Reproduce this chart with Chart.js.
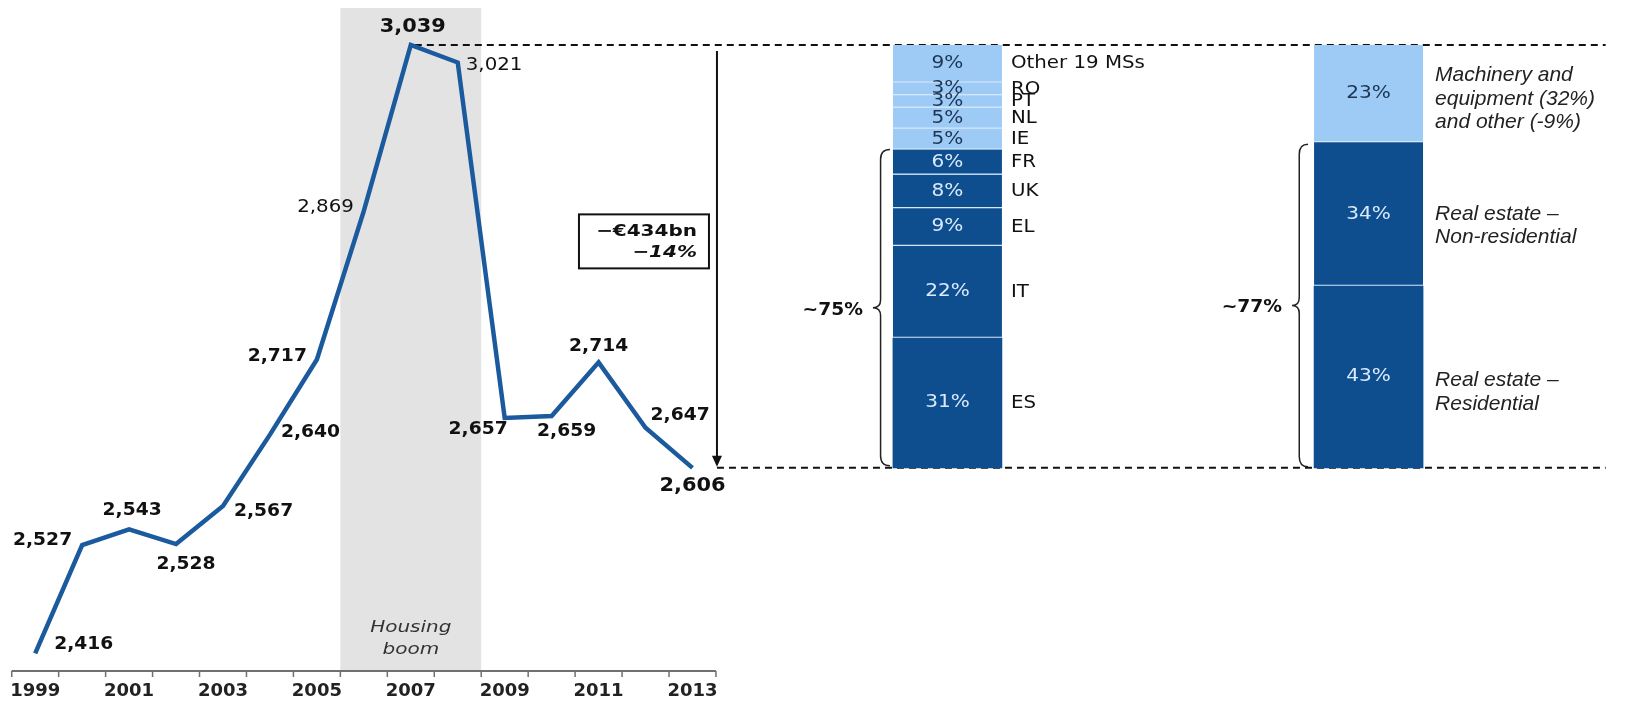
<!DOCTYPE html>
<html>
<head>
<meta charset="utf-8">
<script src="https://cdn.jsdelivr.net/npm/chart.js@4/dist/chart.umd.min.js"></script>
<style>
  html, body { margin: 0; padding: 0; background: #fff; }
</style>
</head>
<body>
<canvas id="chart" width="1627" height="704"></canvas>
<script>
// Investment, EUR bn
const years = [1999, 2000, 2001, 2002, 2003, 2004, 2005, 2006, 2007, 2008, 2009, 2010, 2011, 2012, 2013];
const investment = [2416, 2527, 2543, 2528, 2567, 2640, 2717, 2869, 3039, 3021, 2657, 2659, 2714, 2647, 2606];
const tickYears = [1999, 2001, 2003, 2005, 2007, 2009, 2011, 2013];
const boomYears = [2006, 2008];

// share of the drop by member state (bottom to top)
const countryNames = ["ES", "IT", "EL", "UK", "FR", "IE", "NL", "PT", "RO", "Other 19 MSs"];
const countryShares = [31, 22, 9, 8, 6, 5, 5, 3, 3, 9];
const countryCore = 5;

// share of the drop by sector (bottom to top)
const sectorNames = [["Real estate –", "Residential"], ["Real estate –", "Non-residential"], ["Machinery and", "equipment (32%)", "and other (-9%)"]];
const sectorShares = [43, 34, 23];
const sectorCore = 2;

const dropText = ["−€434bn", "−14%"];
const braceText = ["~75%", "~77%"];

// layout / style (not data)
const DARK = "#0f4e8e", LIGHT = "#9dcbf6", LINE = "#1b5b9d";
const BAR1_X = 2018.43, BAR2_X = 2027.4, DASH_END = 2032.45, BAR_W = 109;
const labelPos = [
  [19, -9, "left"], [-10, -4, "right"], [3, -19, "center"], [10, 21, "center"], [11, 6, "left"],
  [11, -2, "left"], [-10, -3, "right"], [-10, -4, "right"], [2, -18, "center"], [8, 3, "left"],
  [3, 12, "right"], [15, 15, "center"], [0, -16, "center"], [5, -12, "left"], [0, 18, "center"]
];
const sectorDy = [15, 11.5, 5.5];

const peak = Math.max(...investment);
const last = investment[investment.length - 1];

function ranges(shares) {
  const tot = shares.reduce((a, b) => a + b, 0);
  let lo = last;
  return shares.map(s => {
    const hi = lo + s / tot * (peak - last);
    const r = [lo, hi];
    lo = hi;
    return r;
  });
}

function segDatasets(names, shares, xPos, core) {
  return ranges(shares).map((r, i) => ({
    type: "bar",
    label: names[i].toString(),
    data: [{ x: xPos, y: r }],
    backgroundColor: i < core ? DARK : LIGHT,
    borderColor: "#d3e7fb",
    borderWidth: i ? { bottom: 1.5 } : 0,
    borderSkipped: false,
    barThickness: BAR_W,
    grouped: false
  }));
}

function txt(ctx, s, x, y, font, color, align, sx) {
  ctx.save();
  ctx.font = font;
  ctx.fillStyle = color;
  ctx.textAlign = align;
  ctx.textBaseline = "middle";
  ctx.translate(x, y);
  ctx.scale(sx || 1, 1);
  ctx.fillText(s, 0, 0);
  ctx.restore();
}

function brace(ctx, xr, y1, y2, w) {
  const ym = (y1 + y2) / 2, xm = xr - w * 0.55;
  ctx.beginPath();
  ctx.moveTo(xr, y1);
  ctx.quadraticCurveTo(xm, y1, xm, y1 + 10);
  ctx.lineTo(xm, ym - 8);
  ctx.quadraticCurveTo(xm, ym, xr - w, ym);
  ctx.quadraticCurveTo(xm, ym, xm, ym + 8);
  ctx.lineTo(xm, y2 - 10);
  ctx.quadraticCurveTo(xm, y2, xr, y2);
  ctx.stroke();
}

const countrySets = segDatasets(countryNames, countryShares, BAR1_X, countryCore);
const sectorSets = segDatasets(sectorNames, sectorShares, BAR2_X, sectorCore);

const deco = {
  id: "deco",
  beforeDatasetsDraw(chart) {
    const { ctx, chartArea, scales: { x, y } } = chart;
    // housing boom band
    const b0 = x.getPixelForValue(boomYears[0] - 0.5), b1 = x.getPixelForValue(boomYears[1] + 0.5);
    ctx.fillStyle = "#e3e3e3";
    ctx.fillRect(b0, 8, b1 - b0, chartArea.bottom - 8);
    const bc = (b0 + b1) / 2;
    txt(ctx, "Housing", bc, 628, "oblique 16px 'DejaVu Sans'", "#333", "center", 1.25);
    txt(ctx, "boom", bc, 650, "oblique 16px 'DejaVu Sans'", "#333", "center", 1.25);

    // dashed reference lines
    const yTop = y.getPixelForValue(peak), yBot = y.getPixelForValue(last);
    const peakX = x.getPixelForValue(years[investment.indexOf(peak)]);
    const arrowX = x.getPixelForValue(years[years.length - 1] + 0.5) + 1;
    const dEnd = x.getPixelForValue(DASH_END);
    ctx.save();
    ctx.strokeStyle = "#111";
    ctx.lineWidth = 2;
    ctx.setLineDash([7, 5]);
    ctx.beginPath();
    ctx.moveTo(peakX + 4, yTop); ctx.lineTo(dEnd, yTop);
    ctx.moveTo(arrowX, yBot); ctx.lineTo(dEnd, yBot);
    ctx.stroke();
    ctx.restore();
  },
  afterDatasetsDraw(chart) {
    const { ctx, chartArea, scales: { x, y } } = chart;
    const ax0 = x.getPixelForValue(years[0] - 0.5), ax1 = x.getPixelForValue(years[years.length - 1] + 0.5);
    const ab = chartArea.bottom;

    // x axis line and ticks between years
    ctx.save();
    ctx.strokeStyle = "#707070";
    ctx.lineWidth = 2;
    ctx.beginPath();
    ctx.moveTo(ax0, ab); ctx.lineTo(ax1, ab);
    ctx.stroke();
    ctx.lineWidth = 1.5;
    ctx.beginPath();
    for (let i = 0; i <= years.length; i++) {
      const px = x.getPixelForValue(years[0] - 0.5 + i);
      ctx.moveTo(px, ab); ctx.lineTo(px, ab + 6);
    }
    ctx.stroke();
    ctx.restore();

    // point labels
    chart.getDatasetMeta(0).data.forEach((pt, i) => {
      const v = investment[i];
      let font = "bold 17px 'DejaVu Sans'";
      if (v === peak || i === investment.length - 1) font = "bold 19px 'DejaVu Sans'";
      else if (i === 7 || i === 9) font = "18px 'DejaVu Sans'";
      const p = labelPos[i];
      txt(ctx, v.toLocaleString("en-US"), pt.x + p[0], pt.y + p[1], font, "#111", p[2], 1.1);
    });

    // bar 1 labels
    countrySets.forEach((ds, i) => {
      const el = chart.getDatasetMeta(1 + i).data[0];
      const cy = (el.y + el.base) / 2;
      txt(ctx, countryShares[i] + "%", el.x, cy, "17px 'DejaVu Sans'", i < countryCore ? "#d9eafc" : "#1d3552", "center", 1.18);
      txt(ctx, countryNames[i], el.x + el.width / 2 + 9, cy, "18px 'DejaVu Sans'", "#111", "left", 1.1);
    });

    // bar 2 labels
    sectorSets.forEach((ds, i) => {
      const el = chart.getDatasetMeta(1 + countrySets.length + i).data[0];
      const cy = (el.y + el.base) / 2;
      txt(ctx, sectorShares[i] + "%", el.x, cy, "17px 'DejaVu Sans'", i < sectorCore ? "#d9eafc" : "#1d3552", "center", 1.18);
      const lines = sectorNames[i];
      const bc = cy + sectorDy[i];
      lines.forEach((ln, k) => {
        txt(ctx, ln, el.x + el.width / 2 + 12, bc + (k - (lines.length - 1) / 2) * 23.5, "italic 21px 'Liberation Sans'", "#222", "left");
      });
    });

    const yTop = y.getPixelForValue(peak), yBot = y.getPixelForValue(last);

    // braces
    ctx.save();
    ctx.strokeStyle = "#222";
    ctx.lineWidth = 1.5;
    const c1 = chart.getDatasetMeta(countryCore).data[0];
    const l1 = c1.x - c1.width / 2;
    brace(ctx, l1 - 3, c1.y, yBot - 2, 17);
    txt(ctx, braceText[0], l1 - 30, (c1.y + yBot - 2) / 2 + 3, "bold 17px 'DejaVu Sans'", "#111", "right", 1.1);
    const c2 = chart.getDatasetMeta(countrySets.length + sectorCore).data[0];
    const l2 = c2.x - c2.width / 2;
    brace(ctx, l2 - 6, c2.y + 2, yBot - 1, 16);
    txt(ctx, braceText[1], l2 - 32, (c2.y + yBot) / 2 + 3, "bold 17px 'DejaVu Sans'", "#111", "right", 1.1);
    ctx.restore();

    // drop arrow and box
    const arrowX = ax1 + 1;
    ctx.save();
    ctx.strokeStyle = "#111";
    ctx.fillStyle = "#111";
    ctx.lineWidth = 2;
    ctx.beginPath();
    ctx.moveTo(arrowX, yTop + 6); ctx.lineTo(arrowX, yBot - 10);
    ctx.stroke();
    ctx.beginPath();
    ctx.moveTo(arrowX - 5, yBot - 12); ctx.lineTo(arrowX + 5, yBot - 12); ctx.lineTo(arrowX, yBot - 1);
    ctx.closePath();
    ctx.fill();
    const bxR = arrowX - 8, bxW = 130, bxH = 54, bxC = (yTop + yBot) / 2 - 15;
    ctx.fillStyle = "#fff";
    ctx.fillRect(bxR - bxW, bxC - bxH / 2, bxW, bxH);
    ctx.strokeRect(bxR - bxW, bxC - bxH / 2, bxW, bxH);
    ctx.restore();
    txt(ctx, dropText[0], bxR - 12, bxC - 10, "bold 16px 'DejaVu Sans'", "#111", "right", 1.25);
    txt(ctx, dropText[1], bxR - 12, bxC + 11, "italic bold 16px 'DejaVu Sans'", "#111", "right", 1.25);
  }
};

new Chart(document.getElementById("chart"), {
  type: "bar",
  data: {
    datasets: [
      {
        type: "line",
        label: "Investment",
        data: years.map((yr, i) => ({ x: yr, y: investment[i] })),
        borderColor: LINE,
        borderWidth: 4.5,
        pointRadius: 0,
        tension: 0,
        borderJoinStyle: "miter"
      },
      ...countrySets,
      ...sectorSets
    ]
  },
  options: {
    responsive: false,
    animation: false,
    layout: { padding: { left: 10, right: 19, top: 0, bottom: 0 } },
    plugins: { legend: { display: false }, tooltip: { enabled: false } },
    scales: {
      x: {
        type: "linear",
        min: 1998.5,
        max: 2032.5,
        offset: false,
        afterBuildTicks: s => { s.ticks = tickYears.map(v => ({ value: v })); },
        afterFit: s => { s.height = 33; },
        grid: { display: false, drawTicks: false },
        border: { display: false },
        ticks: {
          callback: v => String(v),
          autoSkip: false,
          maxRotation: 0,
          padding: 10,
          color: "#222",
          font: { family: "DejaVu Sans", size: 18, weight: "bold" }
        }
      },
      y: { display: false, min: 2398, max: 3085 }
    }
  },
  plugins: [deco]
});
</script>
</body>
</html>
